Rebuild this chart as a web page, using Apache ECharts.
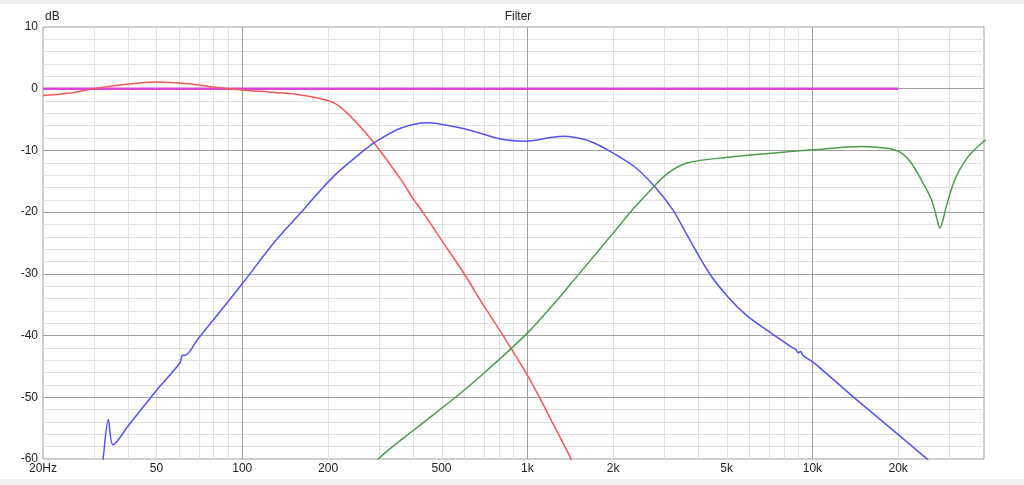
<!DOCTYPE html>
<html>
<head>
<meta charset="utf-8">
<script src="https://cdn.jsdelivr.net/npm/echarts@6/dist/echarts.min.js"></script>
<style>
html,body{margin:0;padding:0;background:#fff;}
#chart{width:1024px;height:485px;}
</style>
</head>
<body>
<div id="chart"></div>
<script>
// frequency labels on the x axis (Hz)
var freqLabels = [20, 50, 100, 200, 500, 1000, 2000, 5000, 10000, 20000];
var decadeLines = [100, 1000, 10000];

// woofer (red)
var redFreq = [20, 25, 30, 38, 50, 65, 79, 100, 130, 160, 200, 220, 253, 290, 360, 400, 430, 503, 599, 700, 817, 1000, 1100, 1200, 1420, 1550];
var redDb   = [-1.1, -0.7, 0, 0.65, 1.1, 0.8, 0.27, -0.2, -0.6, -1.0, -1.9, -2.9, -5.6, -8.8, -14.7, -18, -20, -24.7, -29.9, -35, -39.8, -46.4, -49.9, -53.3, -59.9, -64];

// mid (blue)
var blueFreq = [32.2, 32.5, 33.9, 35.2, 40, 50, 60.5, 61.6, 62.9, 70, 80, 100, 130, 164, 209, 267, 289, 359, 445, 615, 806, 1000, 1208, 1350, 1580, 1715, 1911, 2371, 2790, 3236, 3652, 4350, 5048, 5935, 7167, 8540, 8750, 8900, 9090, 9270, 10180, 13880, 25100, 27000];
var blueDb   = [-62, -60, -53.6, -57.7, -54.5, -48.9, -44.4, -43.2, -43.2, -40.5, -37.2, -31.6, -24.8, -19.6, -14.2, -10, -8.8, -6.4, -5.5, -6.6, -8.15, -8.5, -7.9, -7.7, -8.2, -8.8, -9.9, -12.6, -15.8, -19.6, -23.9, -29.9, -33.7, -36.9, -39.6, -42.0, -42.2, -42.8, -42.6, -43.2, -44.5, -49.9, -59.9, -61.5];

// tweeter (green)
var greenFreq = [290, 300, 400, 560, 704, 1000, 1275, 1519, 2000, 2371, 2790, 3105, 3652, 5048, 7360, 10000, 14850, 18500, 20500, 22200, 24100, 26170, 27400, 28000, 28750, 29500, 31600, 35200, 40000, 41000];
var greenDb   = [-61.5, -60, -55.3, -50, -46.1, -39.6, -34.2, -30, -23.4, -19.3, -15.8, -13.7, -12.0, -11.1, -10.4, -9.9, -9.35, -9.7, -10.4, -12, -14.75, -18, -21.2, -22.6, -21.2, -19.1, -14.75, -11, -8.5, -8.3];

// target (magenta)
var flatFreq = [20, 20000];
var flatDb   = [0, 0];

function lg(f){ return Math.log10(f); }
function pairs(fs, ds){
    var out = [];
    for (var i = 0; i < fs.length; i++) out.push([lg(fs[i]), ds[i]]);
    return out;
}

// grid lines (drawn as markLines so the log grid looks like the original)
var minorV = [], minorH = [], majorH = [];
[10, 100, 1000, 10000].forEach(function(d){
    for (var k = 2; k <= 9; k++) {
        var f = d * k;
        if (f > 20 && f < 40000 && decadeLines.indexOf(f) < 0) minorV.push(f);
    }
});
for (var v = -58; v < 10; v += 2) {
    if (v % 10 !== 0) minorH.push(v); else if (v > -60) majorH.push(v);
}
var gridData = [];
minorV.forEach(function(f){ gridData.push({xAxis: lg(f), lineStyle:{color:'#e1e1e1'}}); });
minorH.forEach(function(y){ gridData.push({yAxis: y, lineStyle:{color:'#e1e1e1'}}); });
decadeLines.forEach(function(f){ gridData.push({xAxis: lg(f), lineStyle:{color:'#a0a0a0'}}); });
majorH.forEach(function(y){ gridData.push({yAxis: y, lineStyle:{color:'#a0a0a0'}}); });

var font = 'Liberation Sans, Arial, sans-serif';

var chart = echarts.init(document.getElementById('chart'));
chart.setOption({
    animation: false,
    backgroundColor: '#ffffff',
    graphic: [
        {type:'rect', shape:{x:0, y:0, width:1024, height:4}, style:{fill:'#f0f0f0'}, silent:true},
        {type:'rect', shape:{x:0, y:479, width:1024, height:6}, style:{fill:'#f0f0f0'}, silent:true},
        {type:'text', left:45, top:11, style:{text:'dB', fill:'#222', font:'12px ' + font}, silent:true}
    ],
    title: {
        text: 'Filter',
        left: 513, top: 6,
        textAlign: 'center',
        textStyle: {fontSize: 12, fontWeight: 'normal', color: '#222', fontFamily: font}
    },
    grid: {
        left: 43, right: 40, top: 27, bottom: 26,
        show: true, backgroundColor: '#fff', borderColor: '#a0a0a0', borderWidth: 1
    },
    xAxis: {
        type: 'value',
        min: lg(20), max: lg(40000),
        axisLine: {show: false},
        axisTick: {show: false},
        splitLine: {show: false},
        axisLabel: {
            customValues: freqLabels.map(lg),
            showMinLabel: true, showMaxLabel: true,
            margin: 4,
            color: '#222', fontSize: 12, fontFamily: font,
            formatter: function(v){
                var f = Math.round(Math.pow(10, v));
                if (f === 20) return '20Hz';
                return f >= 1000 ? (f / 1000) + 'k' : '' + f;
            }
        }
    },
    yAxis: {
        type: 'value',
        min: -60, max: 10, interval: 10,
        axisLine: {show: false},
        axisTick: {show: false},
        splitLine: {show: false},
        axisLabel: {
            margin: 5, color: '#222', fontSize: 12, fontFamily: font,
            padding: [0, 0, 5, 0]
        }
    },
    series: [
        {
            type: 'line', data: [], z: 1, silent: true,
            markLine: {
                z: 1,
                silent: true, animation: false, symbol: ['none', 'none'],
                label: {show: false}, emphasis: {disabled: true},
                lineStyle: {type: 'solid', width: 1},
                data: gridData
            }
        },
        {
            name: 'target', type: 'line', z: 9, showSymbol: false, silent: true,
            data: pairs(flatFreq, flatDb),
            lineStyle: {color: '#dd44dd', width: 2.5}
        },
        {
            name: 'woofer', type: 'line', z: 10, showSymbol: false, silent: true,
            smooth: 0.3,
            data: pairs(redFreq, redDb),
            lineStyle: {color: '#f25a5a', width: 1.5}
        },
        {
            name: 'mid', type: 'line', z: 10, showSymbol: false, silent: true,
            smooth: 0.3,
            data: pairs(blueFreq, blueDb),
            lineStyle: {color: '#5454ee', width: 1.5}
        },
        {
            name: 'tweeter', type: 'line', z: 10, showSymbol: false, silent: true,
            smooth: 0.3,
            data: pairs(greenFreq, greenDb),
            lineStyle: {color: '#4a9e4a', width: 1.5}
        }
    ]
});
</script>
</body>
</html>
